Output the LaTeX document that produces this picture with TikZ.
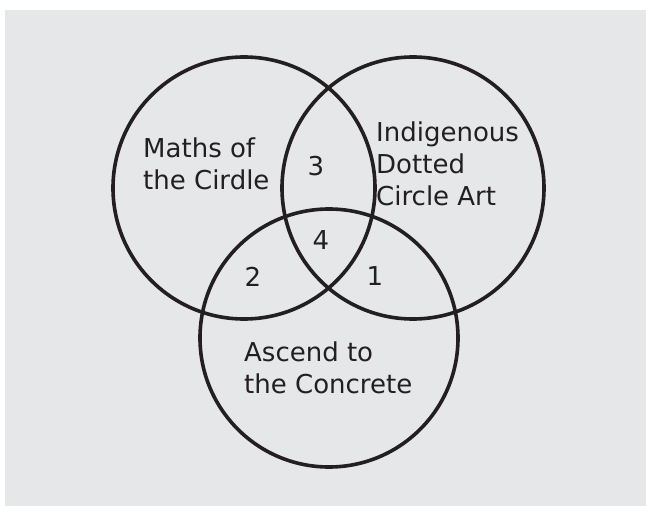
\documentclass[tikz,border=0pt]{standalone}
\usepackage{fontspec}
\setmainfont{DejaVu Sans}
\usepackage{tikz}
\usetikzlibrary{positioning}
\definecolor{bgGray}{RGB}{230,231,232}
\definecolor{inkDark}{RGB}{35,31,32}

\begin{document}
\begin{tikzpicture}[
  x=1pt, y=-1pt,
  ring/.style={draw=inkDark, line width=3.6pt, circle, minimum size=262pt, inner sep=0pt},
  setlabel/.style={anchor=base west, inner sep=0pt, align=left, text=inkDark,
    font=\fontsize{26}{32}\selectfont},
  region/.style={anchor=base, inner sep=0pt, text=inkDark,
    font=\fontsize{26}{32}\selectfont}
]
\useasboundingbox (0,0) rectangle (646,506);
\fill[bgGray] (5,10) rectangle (646,506);

\node[ring] (maths) at (244,188) {};
\node[ring] (art) at (413,188) {};
\node[ring, minimum size=258pt] (concrete) at (329,338) {};

% base anchor sits on the last line
\node[setlabel] (mathsText) at (143,189) {Maths of\\the Cirdle};
\node[setlabel] (artText) at (376,205) {Indigenous\\Dotted\\Circle Art};
\node[setlabel] (concreteText) at (244,393) {Ascend to\\the Concrete};

\node[region] (three) at (316,175) {3};
\node[region] (four) at (321,249) {4};
\node[region] (two) at (253,286) {2};
\node[region] (one) at (375,285) {1};
\end{tikzpicture}
\end{document}
